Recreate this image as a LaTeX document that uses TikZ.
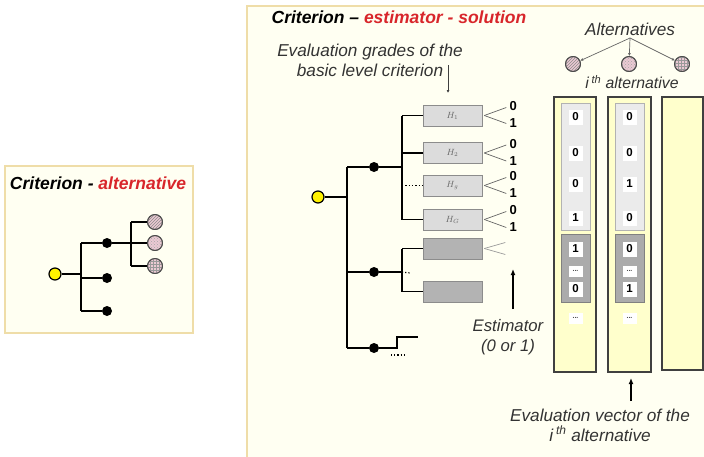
\documentclass[tikz,border=0pt]{standalone}
\usepackage{fontspec}
\setmainfont{Liberation Sans}
\usetikzlibrary{patterns,arrows.meta}
\definecolor{panelfill}{HTML}{FFFFF2}
\definecolor{panelborder}{HTML}{EFDDA8}
\definecolor{titlered}{HTML}{D8262B}
\definecolor{colfill}{HTML}{FFFFCC}
\definecolor{pinkc}{HTML}{EBC9D3}
\definecolor{hbox}{HTML}{DCDCDC}
\definecolor{gbox}{HTML}{B3B3B3}
\definecolor{innerl}{HTML}{EBEBEB}
\definecolor{innerd}{HTML}{ABABAB}
\tikzset{
  titletext/.style={font=\fontsize{17.5}{20}\selectfont\bfseries\itshape, inner sep=0pt},
  labeltext/.style={font=\fontsize{17.2}{20}\selectfont\itshape, text=black!80, inner sep=0pt, align=center},
  blackdot/.style={circle, fill=black, inner sep=0pt, minimum size=10pt},
  rootdot/.style={circle, fill=yellow, draw=black, line width=1.2pt, inner sep=0pt, minimum size=12pt},
  altcircle/.style={circle, draw=black!70, line width=0.9pt, inner sep=0pt, minimum size=15pt, fill=pinkc},
  treeline/.style={line width=1.3pt, black},
  hgrade/.style={draw=black!45, fill=hbox, line width=0.6pt, minimum width=59pt, minimum height=21pt, inner sep=0pt, font=\small, text=black!60},
  graygrade/.style={draw=black!45, fill=gbox, line width=0.6pt, minimum width=59pt, minimum height=21pt, inner sep=0pt},
  fan/.style={black!60, line width=0.7pt},
  bit/.style={font=\fontsize{13}{13}\selectfont\bfseries, inner sep=0pt},
  vbit/.style={fill=white, draw=white, minimum width=13pt, minimum height=14pt, inner sep=0pt, font=\fontsize{11.5}{11.5}\selectfont\bfseries},
  vdots/.style={fill=white, draw=white, minimum width=13pt, minimum height=10pt, inner sep=0pt, font=\fontsize{7}{7}\selectfont\bfseries, text=black!70},
  column/.style={draw=black!75, fill=colfill, line width=1.4pt},
  upperpanel/.style={draw=black!30, fill=innerl, line width=1pt},
  lowerpanel/.style={draw=black!50, fill=innerd, line width=1pt},
  arrowline/.style={line width=1.3pt, -{Latex[length=6pt,width=5pt]}},
  thinarrow/.style={black!60, line width=0.7pt, -{Latex[length=3pt,width=3pt]}}
}
\begin{document}
\begin{tikzpicture}[x=1pt,y=-1pt]
\useasboundingbox (0,0) rectangle (704,456);
\fill[white] (0,0) rectangle (704,456);

%%% Left panel
\draw[fill=panelfill, draw=panelborder, line width=1.2pt] (5,166) rectangle (193,333);
\node[titletext] (ltitle) at (98,183) {Criterion - \textcolor{titlered}{alternative}};
\node[rootdot] (lroot) at (55,274) {};
\node[blackdot] (ld1) at (107,243) {};
\node[blackdot] (ld2) at (107,278) {};
\node[blackdot] (ld3) at (107,311) {};
\node[altcircle] (lc1) at (155,222) {};
\node[altcircle] (lc2) at (155,243) {};
\node[altcircle] (lc3) at (155,266) {};
\fill[pattern=north east lines, pattern color=black!45] (lc1) circle (7pt);
\fill[pattern=crosshatch dots, pattern color=black!35] (lc2) circle (7pt);
\fill[pattern=grid, pattern color=black!40] (lc3) circle (7pt);
\node[altcircle, fill=none] at (lc1) {};
\node[altcircle, fill=none] at (lc2) {};
\node[altcircle, fill=none] at (lc3) {};
\coordinate (lt0) at (81,274);
\coordinate (lt1) at (81,243);
\coordinate (lt3) at (81,311);
\coordinate (ls0) at (131,243);
\draw[treeline] (lroot) -- (lt0);
\draw[treeline] (lt1) -- (lt3);
\draw[treeline] (lt1) -- (ld1);
\draw[treeline] (ld2 -| lt1) -- (ld2);
\draw[treeline] (lt3) -- (ld3);
\draw[treeline] (ld1) -- (lc2);
\draw[treeline] (ls0 |- lc1) -- (ls0 |- lc3);
\draw[treeline] (ls0 |- lc1) -- (lc1);
\draw[treeline] (ls0 |- lc3) -- (lc3);

%%% Right panel
\draw[fill=panelfill, draw=panelborder, line width=1.5pt] (247,6) rectangle (712,462);
\node[titletext] (rtitle) at (399,17) {Criterion -- \textcolor{titlered}{estimator - solution}};
\node[labeltext] (gradelabel) at (370,60) {Evaluation grades of the\\basic level criterion};
\coordinate (gradeA) at (448,65);
\coordinate (gradeB) at (448,93);
\draw[thinarrow, black!75, line width=0.9pt] (gradeA) -- (gradeB);

% grade boxes
\node[hgrade] (H1) at (452.5,115.5) {$H_1$};
\node[hgrade] (H2) at (452.5,153) {$H_2$};
\node[hgrade] (Hg) at (452.5,185.5) {$H_g$};
\node[hgrade] (HG) at (452.5,219.5) {$H_G$};
\node[graygrade] (G1) at (452.5,248.5) {};
\node[graygrade] (G2) at (452.5,291.5) {};

% tree
\node[rootdot] (rroot) at (318,197) {};
\node[blackdot] (rd1) at (374,167) {};
\node[blackdot] (rd2) at (374,272) {};
\node[blackdot] (rd3) at (374,348) {};
\coordinate (rt1) at (347,167);
\coordinate (rt3) at (347,348);
\coordinate (rs1) at (402,167);
\coordinate (rs2) at (402,272);
\coordinate (rs2e) at (410,273);
\coordinate (rb1) at (397,348);
\coordinate (rb2) at (397,337);
\coordinate (rb3) at (418,337);
\coordinate (rbd1) at (391,355);
\coordinate (rbd2) at (404,355);
\draw[treeline] (rroot) -- (rroot -| rt1);
\draw[treeline] (rt1) -- (rt3);
\draw[treeline] (rt1) -- (rd1) -- (rs1);
\draw[treeline] (rs1 |- H1) -- (rs1 |- HG);
\draw[treeline] (rs1 |- H1) -- (H1);
\draw[treeline] (rs1 |- H2) -- (H2);
\draw[treeline, dotted] (rs1 |- Hg) -- (Hg);
\draw[treeline] (rs1 |- HG) -- (HG);
\draw[treeline] (rt1 |- rd2) -- (rd2) -- (rs2);
\draw[line width=1.2pt, dotted] (rs2) -- (rs2e);
\draw[treeline] (rs2 |- G1) -- (rs2 |- G2);
\draw[treeline] (rs2 |- G1) -- (G1);
\draw[treeline] (rs2 |- G2) -- (G2);
\draw[treeline] (rt3) -- (rd3) -- (rb1) -- (rb2) -- (rb3);
\draw[line width=1.2pt, dotted] (rbd1) -- (rbd2);

% fans and bits
\foreach \b in {H1,H2,Hg,HG}{
  \coordinate (\b-f0) at ([shift={(24pt,8pt)}]\b.east);
  \coordinate (\b-f1) at ([shift={(24pt,-8pt)}]\b.east);
  \draw[fan] ([xshift=2pt]\b.east) -- (\b-f0);
  \draw[fan] ([xshift=2pt]\b.east) -- (\b-f1);
  \node[bit] (\b-zero) at ([shift={(31pt,9pt)}]\b.east) {0};
  \node[bit] (\b-one) at ([shift={(31pt,-8pt)}]\b.east) {1};
}
\coordinate (G1-f0) at ([shift={(23pt,6pt)}]G1.east);
\coordinate (G1-f1) at ([shift={(23pt,-6pt)}]G1.east);
\draw[fan, black!40] ([xshift=2pt]G1.east) -- (G1-f0);
\draw[fan, black!40] ([xshift=2pt]G1.east) -- (G1-f1);

% estimator
\coordinate (estA) at (513,309);
\coordinate (estB) at (513,269);
\draw[arrowline] (estA) -- (estB);
\node[labeltext, font=\fontsize{16.7}{20}\selectfont\itshape] (estlabel) at (508,337) {Estimator\\(0 or 1)};

% alternatives
\node[labeltext] (altlabel) at (630,29) {Alternatives};
\node[altcircle] (a1) at (573,64) {};
\node[altcircle] (a2) at (629,64) {};
\node[altcircle] (a3) at (682,64) {};
\fill[pattern=north east lines, pattern color=black!45] (a1) circle (7pt);
\fill[pattern=crosshatch dots, pattern color=black!35] (a2) circle (7pt);
\fill[pattern=grid, pattern color=black!40] (a3) circle (7pt);
\node[altcircle, fill=none] at (a1) {};
\node[altcircle, fill=none] at (a2) {};
\node[altcircle, fill=none] at (a3) {};
\coordinate (altsrc) at (630,38);
\draw[thinarrow] (altsrc) -- (a1);
\draw[thinarrow] (altsrc) -- (a2);
\draw[thinarrow] (altsrc) -- (a3);
\node[labeltext, font=\fontsize{15.8}{20}\selectfont\itshape] (ithlabel) at (632,82) {i\,\textsuperscript{th} alternative};

% columns
\draw[column] (554,97) rectangle (596,372);
\draw[column] (608,97) rectangle (651,372);
\draw[column] (662,97) rectangle (703,370);
\draw[upperpanel] (561,103) rectangle (590,230);
\draw[lowerpanel] (561,234) rectangle (590,302);
\draw[upperpanel] (615,103) rectangle (644,230);
\draw[lowerpanel] (615,234) rectangle (644,302);

\node[vbit] (v11) at (575.5,117) {0};
\node[vbit] (v12) at (575.5,153) {0};
\node[vbit] (v13) at (575.5,184) {0};
\node[vbit] (v14) at (575.5,218) {1};
\node[vbit] (v15) at (575.5,249) {1};
\node[vdots] (v16) at (575.5,271) {...};
\node[vbit] (v17) at (575.5,289) {0};
\node[vdots] (v18) at (575.5,318) {...};

\node[vbit] (v21) at (629.5,117) {0};
\node[vbit] (v22) at (629.5,153) {0};
\node[vbit] (v23) at (629.5,184) {1};
\node[vbit] (v24) at (629.5,218) {0};
\node[vbit] (v25) at (629.5,249) {0};
\node[vdots] (v26) at (629.5,271) {...};
\node[vbit] (v27) at (629.5,289) {1};
\node[vdots] (v28) at (629.5,318) {...};

% evaluation vector
\coordinate (evA) at (631,401);
\coordinate (evB) at (631,378);
\draw[arrowline] (evA) -- (evB);
\node[labeltext] (evlabel) at (600,425) {Evaluation vector of the\\i\,\textsuperscript{th} alternative};
\end{tikzpicture}
\end{document}
